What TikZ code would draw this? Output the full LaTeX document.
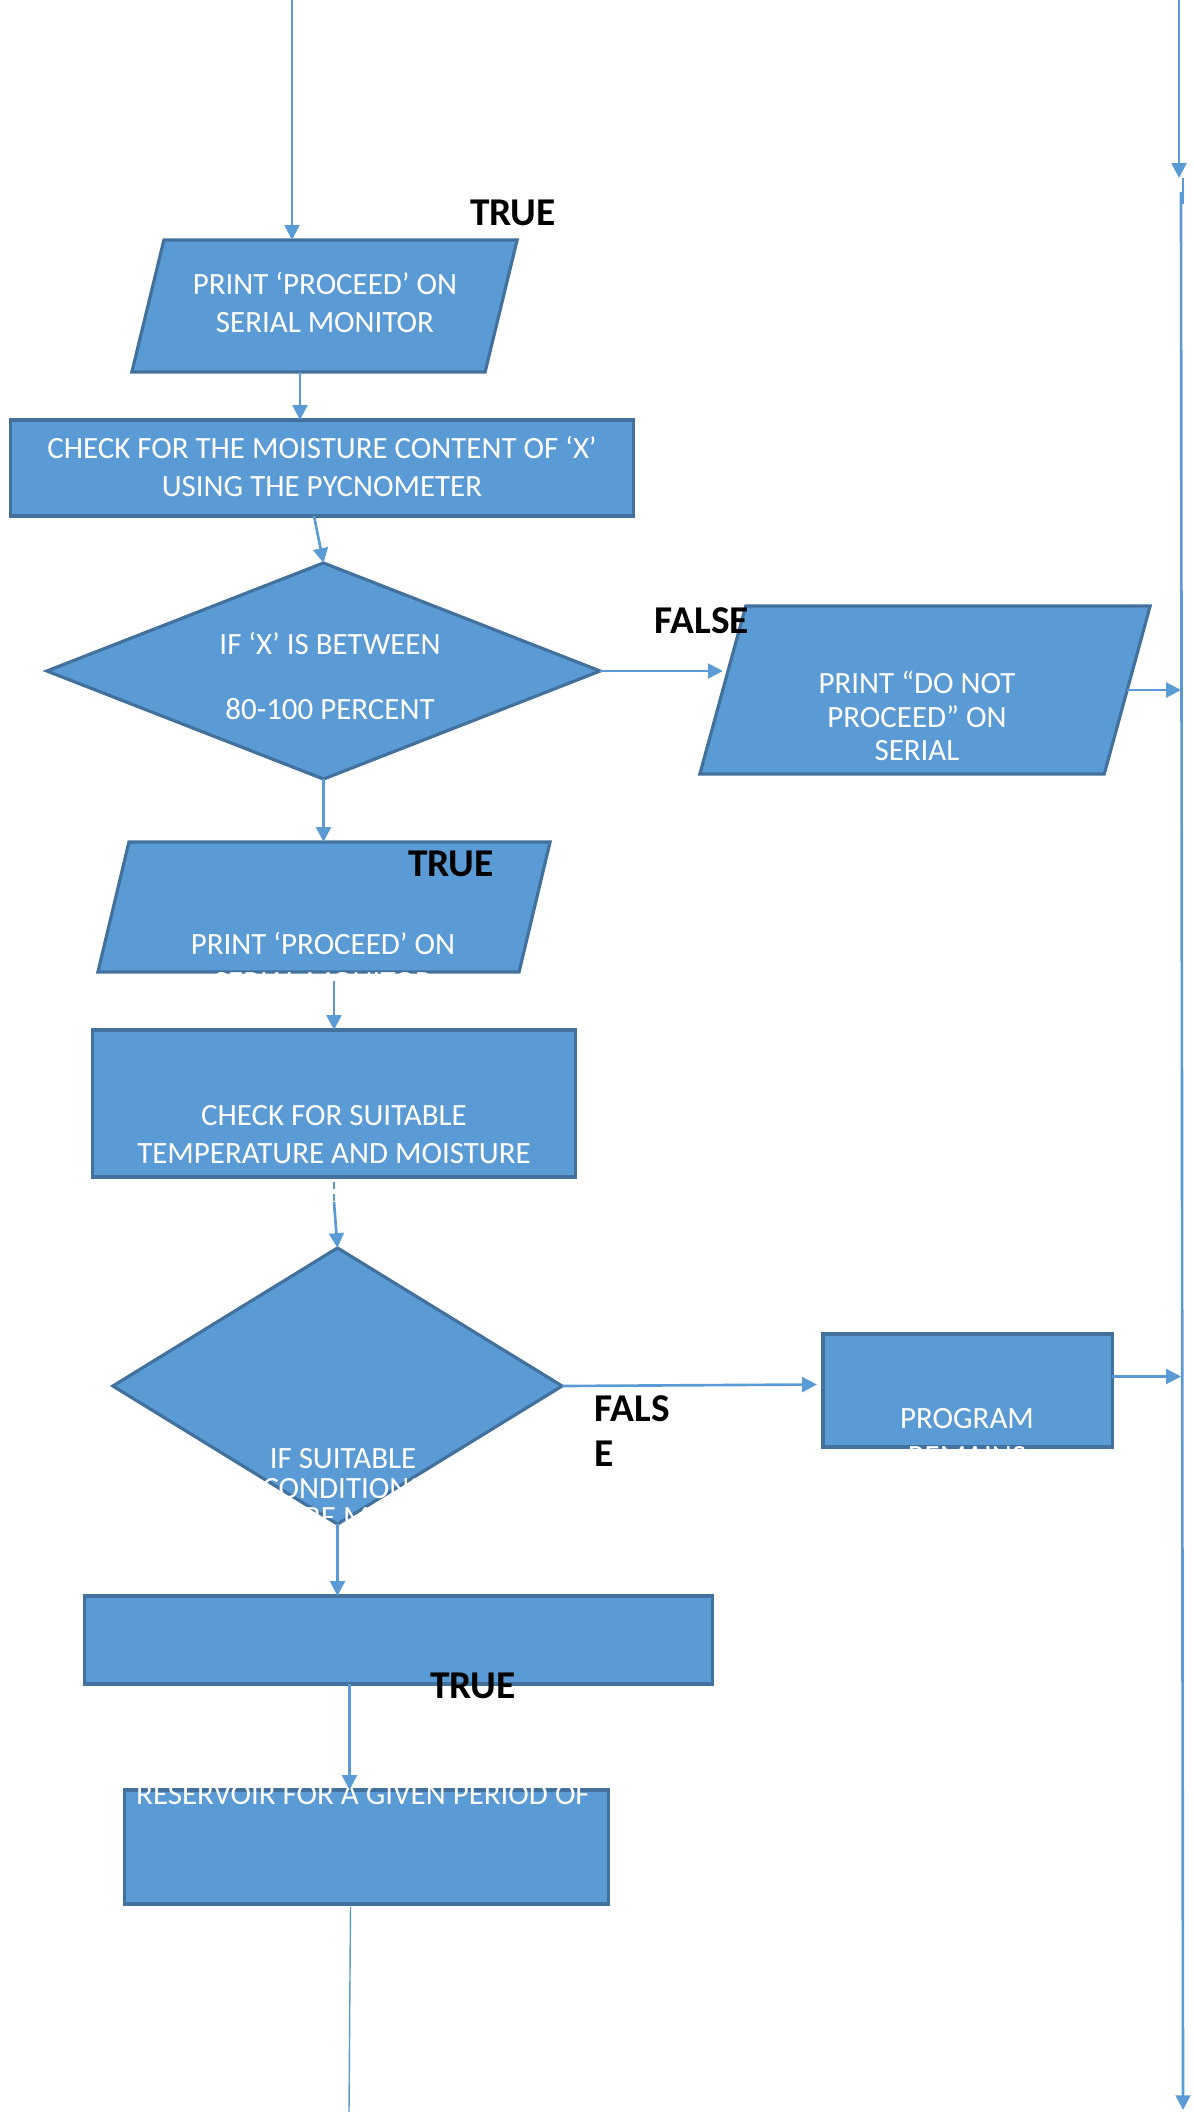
\documentclass[tikz,border=0pt]{standalone}
\usepackage{fontspec}
\setmainfont{Carlito}
\usetikzlibrary{shapes.geometric,arrows.meta,calc}
\definecolor{boxfill}{RGB}{91,155,213}
\definecolor{boxline}{RGB}{65,113,156}
\definecolor{flowc}{RGB}{91,155,213}
\begin{document}
\begin{tikzpicture}[x=0.01cm, y=-0.01cm,
	blk/.style={draw=boxline, fill=boxfill, line width=0.9pt, inner sep=0pt, outer sep=0pt},
	rbox/.style={blk, rectangle},
	dbox/.style={blk, diamond},
	pbox/.style={blk, trapezium, trapezium stretches=true, inner sep=2pt},
	txt/.style={text=white, align=center, font=\fontsize{8.8}{10.8}\selectfont, inner sep=0pt},
	tag/.style={text=black, font=\fontsize{11.2}{13}\selectfont\bfseries, inner sep=0pt},
	arr/.style={draw=flowc, line width=0.75pt, -{Triangle[length=4.2pt,width=4.2pt]}},
	flow/.style={draw=flowc, line width=0.75pt}]
	\useasboundingbox (0,0) rectangle (1194,2112);

	\coordinate (in1)   at (292,0);
	\coordinate (rtop)  at (1179,0);
	\coordinate (rmid)  at (1179,178);
	\coordinate (rmid2) at (1181,192);
	\coordinate (rbot)  at (1183,2110);
	\coordinate (out1)  at (349,2112);

	\node[pbox, minimum width=3.85cm, minimum height=1.32cm, trapezium left angle=84.3, trapezium right angle=95.7] (para1) at (324.5,306) {};
	\node[rbox, minimum width=6.22cm, minimum height=0.96cm] (rect1) at (322,468) {};
	\node[dbox, minimum width=5.53cm, minimum height=2.16cm] (dia1) at (323.5,671) {};
	\node[pbox, minimum width=4.50cm, minimum height=1.68cm, trapezium left angle=82.7, trapezium right angle=97.3] (para2) at (925,690) {};
	\node[pbox, minimum width=4.52cm, minimum height=1.30cm, trapezium left angle=85.45, trapezium right angle=94.55] (para3) at (324,907) {};
	\node[rbox, minimum width=4.82cm, minimum height=1.47cm] (rect2) at (334,1103.5) {};
	\node[dbox, minimum width=4.49cm, minimum height=2.76cm] (dia2) at (337.5,1386) {};
	\node[rbox, minimum width=2.89cm, minimum height=1.13cm] (prog) at (967.5,1390.5) {};
	\node[rbox, minimum width=6.27cm, minimum height=0.88cm] (rect3) at (398.5,1640) {};
	\node[rbox, minimum width=4.83cm, minimum height=1.14cm] (rect4) at (366.5,1847) {};

	\node[txt] (t1) at (325,302) {PRINT ‘PROCEED’ ON\\SERIAL MONITOR};
	\node[txt] (t2) at (322,466) {CHECK FOR THE MOISTURE CONTENT OF ‘X’\\USING THE PYCNOMETER};
	\node[txt] (t3) at (330,676) {IF ‘X’ IS BETWEEN\\[7.6pt]80-100 PERCENT};
	\node[txt] (t4) at (917,716) {PRINT “DO NOT\\[-1.2pt]PROCEED” ON\\[-1.2pt]SERIAL};
	\node[txt] (t5) at (323,962) {PRINT ‘PROCEED’ ON\\SERIAL MONITOR};
	\node[txt] (t6) at (334,1135) {CHECK FOR SUITABLE\\TEMPERATURE AND MOISTURE};
	\node[txt] (t7) at (343,1488) {IF SUITABLE\\[-2.3pt]CONDITIONS\\[-2.3pt]ARE MET};
	\node[txt] (t8) at (967,1438) {PROGRAM\\REMAINS};
	\node[txt] (t9) at (363,1795) {RESERVOIR FOR A GIVEN PERIOD OF};

	\node[tag] (true1) at (513,213) {TRUE};
	\node[tag] (false1) at (702,621) {FALSE};
	\node[tag] (true2) at (451,864) {TRUE};
	\node[tag, anchor=west, align=left] (false2) at (594,1431) {FALS\\E};
	\node[tag] (true3) at (473,1686) {TRUE};

	\draw[arr] (in1) -- (in1 |- para1.north);
	\draw[arr] ([xshift=-0.22cm]rect1.north |- para1.south) -- ([xshift=-0.22cm]rect1.north);
	\draw[arr] ([xshift=-0.08cm]rect1.south) -- (dia1.north);
	\draw[arr] (dia1.east) -- (dia1.east -| para2.west);
	\draw[arr] (para2.east) -- (para2.east -| rmid2);
	\draw[arr] (rtop) -- (rmid);
	\draw[flow, line width=0.3pt] ([xshift=0.04cm]rmid) -- ([xshift=0.04cm,yshift=-0.26cm]rmid);
	\draw[arr] (rmid2) -- (rbot);
	\draw[arr] (dia1.south) -- (dia1.south |- para3.north);
	\draw[arr] ([yshift=-0.09cm]para3.south -| rect2.north) -- (rect2.north);
	\draw[flow, dashed, dash pattern=on 2pt off 1.5pt] ([yshift=-0.05cm]rect2.south) -- ([yshift=-0.25cm]rect2.south);
	\draw[arr] ([yshift=-0.25cm]rect2.south) -- (dia2.north);
	\draw[arr] (dia2.east) -- ([xshift=-0.06cm,yshift=0.06cm]prog.west);
	\draw[arr] ([yshift=0.14cm]prog.east) -- ([yshift=0.14cm]prog.east -| rmid2);
	\draw[arr] (dia2.south) -- (dia2.south |- rect3.north);
	\draw[arr] ([xshift=-0.17cm]rect4.north |- rect3.south) -- ([xshift=-0.17cm]rect4.north);
	\draw[flow, line width=0.4pt] ([xshift=-0.16cm,yshift=-0.03cm]rect4.south) -- (out1);
\end{tikzpicture}
\end{document}
